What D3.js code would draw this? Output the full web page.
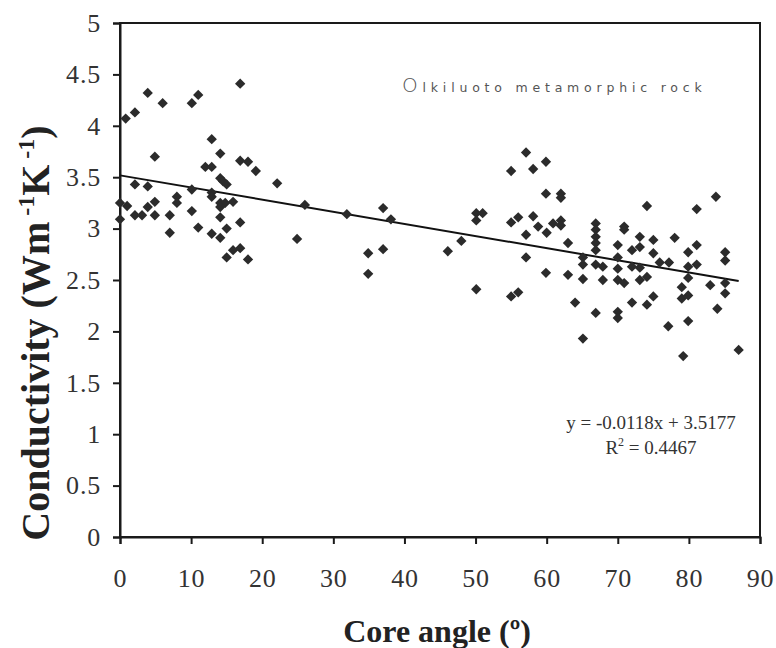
<!DOCTYPE html>
<html><head><meta charset="utf-8">
<script src="https://cdn.jsdelivr.net/npm/d3@7"></script>
<style>body{margin:0;background:#fff}</style>
</head><body><svg id="c" width="776" height="648"></svg>
<script>
const coreAngle = [16.9,3.9,11.0,6.0,10.1,2.1,0.8,12.9,4.9,14.1,16.9,18.0,19.1,12.0,12.9,22.1,14.1,14.5,15.0,2.1,3.9,10.1,12.9,12.9,8.0,8.0,14.1,14.8,15.9,14.1,0.0,1.0,4.9,3.9,10.1,2.1,3.1,4.9,7.0,0.0,14.1,16.9,11.0,15.0,7.0,12.9,14.1,16.9,15.9,15.0,18.0,
26.0,24.9,31.9,37.0,38.1,34.9,37.0,34.9,46.1,48.0,50.1,50.1,50.1,51.0,57.1,55.0,58.1,59.9,59.9,62.0,62.0,55.0,56.0,58.1,58.8,60.0,57.1,60.9,62.0,62.0,63.0,57.1,59.9,63.0,55.0,56.0,64.0,65.1,65.1,65.1,66.9,66.9,66.9,66.9,66.9,66.9,65.1,66.9,67.9,67.9,
70.9,70.9,70.0,70.0,70.0,70.0,70.9,72.0,73.1,73.1,72.0,73.1,73.1,74.1,72.0,74.1,75.0,74.1,75.0,75.0,75.9,77.2,78.0,77.1,70.0,70.0,81.1,83.8,79.9,81.1,79.9,81.1,79.9,79.0,79.0,79.9,79.9,79.2,84.0,83.0,85.1,85.1,85.1,85.1,87.0];
const conductivity = [4.41,4.32,4.30,4.22,4.22,4.13,4.07,3.87,3.70,3.73,3.66,3.65,3.56,3.60,3.60,3.44,3.49,3.46,3.43,3.43,3.41,3.38,3.35,3.31,3.31,3.25,3.25,3.25,3.26,3.21,3.25,3.22,3.26,3.21,3.17,3.13,3.13,3.13,3.13,3.09,3.11,3.06,3.01,3.00,2.96,2.95,2.91,2.81,2.79,2.72,2.70,
3.23,2.90,3.14,3.20,3.09,2.76,2.80,2.56,2.78,2.88,3.15,3.08,2.41,3.15,3.74,3.56,3.58,3.65,3.34,3.34,3.30,3.06,3.11,3.12,3.02,2.96,2.94,3.05,3.08,3.03,2.86,2.72,2.57,2.55,2.34,2.38,2.28,1.93,2.72,2.65,3.05,2.99,2.92,2.86,2.79,2.65,2.51,2.18,2.63,2.50,
3.02,2.99,2.84,2.72,2.61,2.50,2.47,2.79,2.92,2.82,2.63,2.62,2.50,2.53,2.28,2.26,2.34,3.22,2.89,2.76,2.67,2.67,2.91,2.05,2.19,2.13,3.19,3.31,2.77,2.84,2.63,2.65,2.52,2.43,2.32,2.35,2.10,1.76,2.22,2.45,2.77,2.69,2.47,2.37,1.82];
const slope = -0.0118, intercept = 3.5177, trendRange = [0, 87];
const xTicks = [0,10,20,30,40,50,60,70,80,90];
const yTicks = [0,0.5,1,1.5,2,2.5,3,3.5,4,4.5,5];
const equationText = "y = -0.0118x + 3.5177";
const r2Value = "0.4467";

const svg = d3.select("#c");
const m = {l:120, r:16, t:23, b:111};
const W = 776, H = 648;
const x = d3.scaleLinear().domain([0,90]).range([m.l, W-m.r]);
const y = d3.scaleLinear().domain([0,5]).range([H-m.b, m.t]);
const serif = "Liberation Serif";
const ink = "#1a1a1a";

svg.append("rect").attr("x", x(0)).attr("y", y(5)).attr("width", x(90)-x(0)).attr("height", y(0)-y(5))
  .attr("fill","none").attr("stroke",ink).attr("stroke-width",2);

const xa = svg.append("g").attr("transform",`translate(0,${y(0)})`)
  .call(d3.axisBottom(x).tickValues(xTicks).tickSize(7).tickPadding(25).tickFormat(d3.format("d")));
const ya = svg.append("g").attr("transform",`translate(${x(0)},0)`)
  .call(d3.axisLeft(y).tickValues(yTicks).tickSize(7).tickPadding(12).tickFormat(d=>String(d)));
[xa,ya].forEach(g=>{
  g.attr("font-family", serif).attr("font-size", 26);
  g.select(".domain").attr("stroke",ink).attr("stroke-width",2);
  g.selectAll(".tick line").attr("stroke",ink).attr("stroke-width",2);
  g.selectAll("text").attr("style","font-family:'Liberation Serif',serif;font-size:26px;letter-spacing:0.8px").attr("fill","#333");
});

svg.append("line")
  .attr("x1", x(trendRange[0])).attr("y1", y(slope*trendRange[0]+intercept))
  .attr("x2", x(trendRange[1])).attr("y2", y(slope*trendRange[1]+intercept))
  .attr("stroke","#111").attr("stroke-width",2);

const pts = coreAngle.map((a,i)=>({a, c:conductivity[i]}));
svg.append("g").selectAll("path").data(pts).join("path")
  .attr("d", d3.symbol(d3.symbolDiamond2, 68))
  .attr("transform", d=>`translate(${x(d.a)},${y(d.c)})`)
  .attr("fill","#2b2b2b");

svg.append("text").attr("x", 437).attr("y", 642).attr("text-anchor","middle")
  .style("font-family",serif).style("font-weight","bold").style("font-size","32px").attr("fill","#222")
  .text("Core angle (º)");
const yt = svg.append("text").attr("transform",`translate(49,333) rotate(-90)`)
  .attr("text-anchor","middle").style("font-family",serif).style("font-weight","bold").style("font-size","40px").attr("fill","#222");
yt.append("tspan").text("Conductivity (Wm");
yt.append("tspan").attr("dy",-15).style("font-size","24px").text(" -1");
yt.append("tspan").attr("dy",15).text("K");
yt.append("tspan").attr("dy",-15).style("font-size","24px").text(" -1");
yt.append("tspan").attr("dy",15).text(")");

const an = svg.append("text").attr("x",402).attr("y",92).style("font-family","DejaVu Sans")
  .attr("fill","#555").attr("letter-spacing",4.8);
an.append("tspan").style("font-size","20px").style("font-weight","200").text("O");
an.append("tspan").style("font-size","12.5px").text("lkiluoto metamorphic rock");

svg.append("text").attr("x",651).attr("y",429).attr("text-anchor","middle")
  .style("font-family",serif).style("font-size","19px").attr("fill","#333").text(equationText);
const r2 = svg.append("text").attr("x",651).attr("y",454).attr("text-anchor","middle")
  .style("font-family",serif).style("font-size","19px").attr("fill","#333");
r2.append("tspan").text("R");
r2.append("tspan").attr("dy",-8).style("font-size","12px").text("2");
r2.append("tspan").attr("dy",8).text(" = " + r2Value);
</script></body></html>
